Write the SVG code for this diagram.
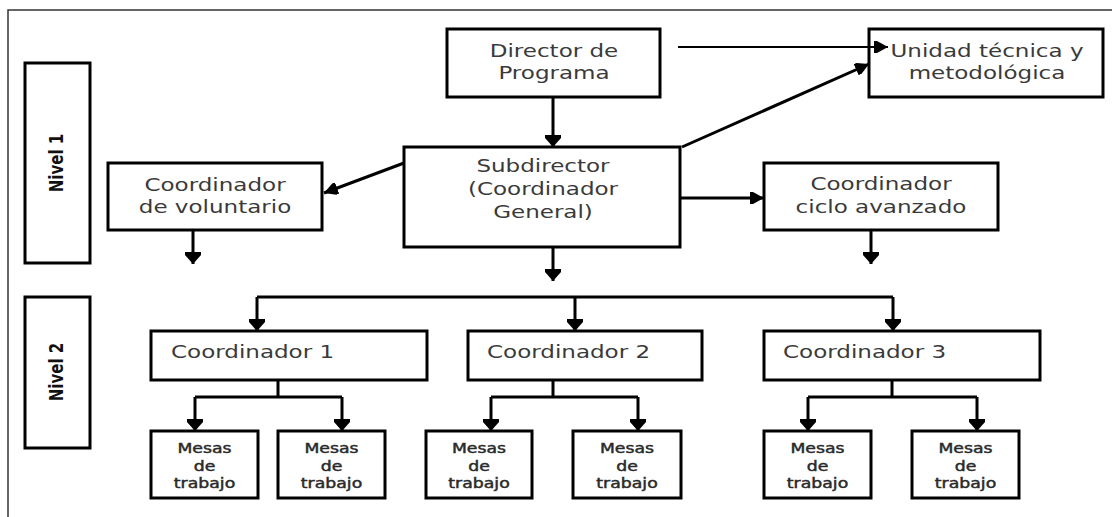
<svg xmlns="http://www.w3.org/2000/svg" width="1112" height="517" viewBox="0 0 1112 517">
<style>
.box{fill:#fff;stroke:#000;stroke-width:3}
.t{font-family:"DejaVu Sans",Verdana,sans-serif;font-size:18px;fill:#3a3a3a;text-anchor:middle}
.ts{text-anchor:start}
.m{font-family:"DejaVu Sans",Verdana,sans-serif;font-size:13.5px;fill:#2a2a2a;stroke:#2a2a2a;stroke-width:0.45;text-anchor:middle}
.n{font-family:"DejaVu Sans",Verdana,sans-serif;font-size:15px;font-weight:bold;fill:#111;text-anchor:middle}
.c{fill:none;stroke:#000;stroke-width:3}
.cd{fill:none;stroke:#000;stroke-width:3;marker-end:url(#ad)}
.ch{fill:none;stroke:#000;stroke-width:3;marker-end:url(#ah)}
</style>
<defs>
<marker id="ad" markerUnits="userSpaceOnUse" markerWidth="12" markerHeight="16" refX="12" refY="8" orient="auto"><path d="M0,0 L3,0 L12,8 L3,16 L0,16 z" fill="#000"/></marker>
<marker id="ah" markerUnits="userSpaceOnUse" markerWidth="14" markerHeight="12" refX="14" refY="6" orient="auto"><path d="M0,0 L3,0 L14,6 L3,12 L0,12 z" fill="#000"/></marker>
</defs>
<rect width="1112" height="517" fill="#fff"/>
<path d="M8,517 V10 H1112" fill="none" stroke="#333" stroke-width="1.5"/>

<g id="nivel1"><rect class="box" x="25" y="63" width="65" height="200"/><text class="n" transform="translate(56,163) scale(1.28,1) rotate(-90)" x="0" y="5.5">Nivel 1</text></g>
<g id="nivel2"><rect class="box" x="25" y="297" width="65" height="151"/><text class="n" transform="translate(56,372) scale(1.28,1) rotate(-90)" x="0" y="5.5">Nivel 2</text></g>

<g id="director"><rect class="box" x="447" y="29" width="213" height="68"/><text class="t" transform="translate(554,57) scale(1.28,1)"><tspan x="0" y="0">Director de</tspan><tspan x="0" y="22">Programa</tspan></text></g>
<g id="unidad"><rect class="box" x="869" y="29" width="234" height="68"/><text class="t" transform="translate(987,57) scale(1.28,1)"><tspan x="0" y="0">Unidad técnica y</tspan><tspan x="0" y="22">metodológica</tspan></text></g>
<g id="subdirector"><rect class="box" x="404" y="147" width="276" height="100"/><text class="t" transform="translate(543,172) scale(1.28,1)"><tspan x="0" y="0">Subdirector</tspan><tspan x="0" y="23">(Coordinador</tspan><tspan x="0" y="46">General)</tspan></text></g>
<g id="voluntario"><rect class="box" x="108" y="163" width="214" height="67"/><text class="t" transform="translate(215,191) scale(1.28,1)"><tspan x="0" y="0">Coordinador</tspan><tspan x="0" y="22">de voluntario</tspan></text></g>
<g id="ciclo"><rect class="box" x="764" y="163" width="234" height="67"/><text class="t" transform="translate(881,190) scale(1.28,1)"><tspan x="0" y="0">Coordinador</tspan><tspan x="0" y="23">ciclo avanzado</tspan></text></g>

<g id="coord1"><rect class="box" x="151" y="331" width="276" height="49"/><text class="t ts" transform="translate(171,358) scale(1.28,1)">Coordinador 1</text></g>
<g id="coord2"><rect class="box" x="468" y="331" width="234" height="49"/><text class="t ts" transform="translate(487,358) scale(1.28,1)">Coordinador 2</text></g>
<g id="coord3"><rect class="box" x="764" y="331" width="276" height="49"/><text class="t ts" transform="translate(783,358) scale(1.28,1)">Coordinador 3</text></g>

<g id="mesas1a"><rect class="box" x="151" y="431" width="107" height="67"/><text class="m" transform="translate(204.5,453) scale(1.28,1)"><tspan x="0" y="0">Mesas</tspan><tspan x="0" y="18">de</tspan><tspan x="0" y="35">trabajo</tspan></text></g>
<g id="mesas1b"><rect class="box" x="278" y="431" width="107" height="67"/><text class="m" transform="translate(331.5,453) scale(1.28,1)"><tspan x="0" y="0">Mesas</tspan><tspan x="0" y="18">de</tspan><tspan x="0" y="35">trabajo</tspan></text></g>
<g id="mesas2a"><rect class="box" x="426" y="431" width="106" height="67"/><text class="m" transform="translate(479,453) scale(1.28,1)"><tspan x="0" y="0">Mesas</tspan><tspan x="0" y="18">de</tspan><tspan x="0" y="35">trabajo</tspan></text></g>
<g id="mesas2b"><rect class="box" x="573" y="431" width="108" height="67"/><text class="m" transform="translate(627,453) scale(1.28,1)"><tspan x="0" y="0">Mesas</tspan><tspan x="0" y="18">de</tspan><tspan x="0" y="35">trabajo</tspan></text></g>
<g id="mesas3a"><rect class="box" x="764" y="431" width="107" height="67"/><text class="m" transform="translate(817.5,453) scale(1.28,1)"><tspan x="0" y="0">Mesas</tspan><tspan x="0" y="18">de</tspan><tspan x="0" y="35">trabajo</tspan></text></g>
<g id="mesas3b"><rect class="box" x="912" y="431" width="107" height="67"/><text class="m" transform="translate(965.5,453) scale(1.28,1)"><tspan x="0" y="0">Mesas</tspan><tspan x="0" y="18">de</tspan><tspan x="0" y="35">trabajo</tspan></text></g>

<g id="connectors">
<path class="cd" d="M553,97 V147"/>
<path class="ch" style="stroke-width:2.2" d="M678,47 H888"/>
<path class="ch" d="M682,147 L869,64"/>
<path class="ch" d="M404,163 L324,193"/>
<path class="ch" d="M680,198 H764"/>
<path class="cd" d="M193,230 V264"/>
<path class="cd" d="M553,247 V281"/>
<path class="cd" d="M871,230 V264"/>
<path class="c" d="M257,297 H893"/>
<path class="cd" d="M257,297 V331"/>
<path class="cd" d="M575,297 V331"/>
<path class="cd" d="M893,297 V331"/>
<path class="c" d="M278,380 V397 M195,397 H342"/>
<path class="cd" d="M195,397 V431"/>
<path class="cd" d="M342,397 V431"/>
<path class="c" d="M553,380 V397 M491,397 H638"/>
<path class="cd" d="M491,397 V431"/>
<path class="cd" d="M638,397 V431"/>
<path class="c" d="M892,380 V397 M808,397 H977"/>
<path class="cd" d="M808,397 V431"/>
<path class="cd" d="M977,397 V431"/>
</g>
</svg>
